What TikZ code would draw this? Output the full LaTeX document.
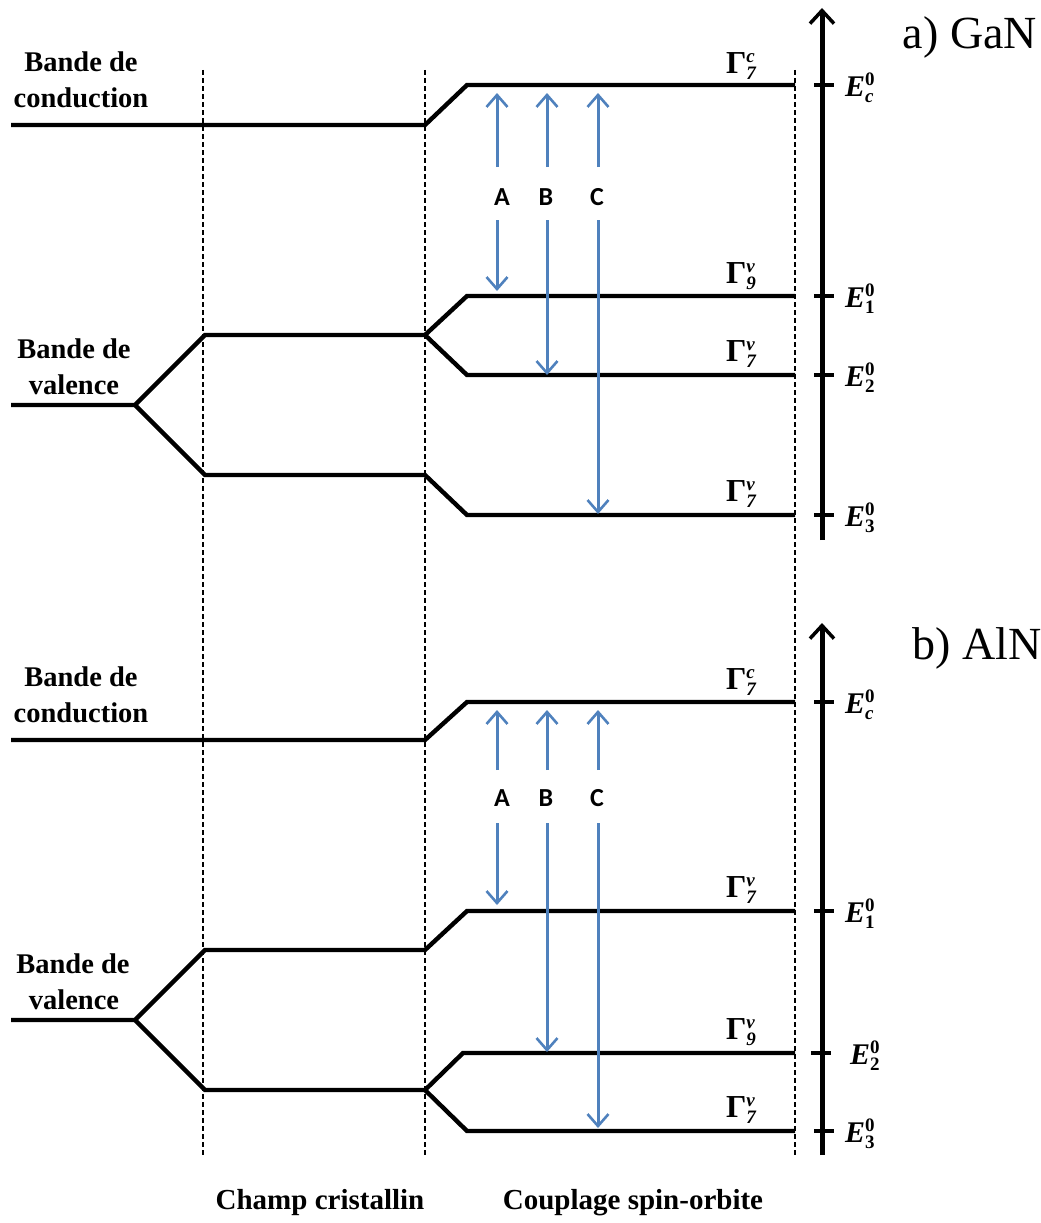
\documentclass[tikz,border=0pt]{standalone}
\usepackage{fontspec}
\setmainfont{Liberation Serif}
\newfontfamily\sansf{Carlito}
\usetikzlibrary{arrows.meta}
\definecolor{arrblue}{RGB}{79,129,189}
\newcommand\smallfs{\fontsize{19}{19}\selectfont}
\newcommand\glab[2]{{\fontsize{32}{34}\selectfont\bfseries Γ}\makebox[0pt][l]{\raisebox{11pt}{\smallfs\bfseries\itshape #2}}\raisebox{-6pt}{\smallfs\bfseries\itshape #1}}
\newcommand\elab[1]{{\fontsize{30}{32}\selectfont\bfseries\itshape E}\makebox[0pt][l]{\raisebox{11pt}{\smallfs\bfseries 0}}\raisebox{-6pt}{\smallfs\bfseries #1}}
\begin{document}
\begin{tikzpicture}[x=1pt,y=-1pt,
  lvl/.style={line width=4.4pt},
  axisline/.style={line width=5pt,-{Straight Barb[length=13pt,width=24pt,line width=3.5pt]}},
  tick/.style={line width=4.4pt},
  guide/.style={line width=1.3pt,dash pattern=on 5pt off 3pt},
  tr/.style={draw=arrblue,line width=3pt,-{Straight Barb[length=12pt,width=21pt,line width=2.6pt]}},
  abc/.style={font=\sansf\bfseries\fontsize{26}{28}\selectfont,inner sep=1pt},
  band/.style={font=\bfseries\fontsize{28.5}{34}\selectfont,align=center,inner sep=0pt},
  sect/.style={font=\bfseries\fontsize{29}{32}\selectfont,inner sep=0pt},
  title/.style={font=\fontsize{46}{50}\selectfont,inner sep=0pt},
  gl/.style={inner sep=0pt},
  el/.style={inner sep=0pt,anchor=west}]
\useasboundingbox (0,0) rectangle (1041,1223);

% dashed guides
\foreach \x/\n in {203/g1,425/g2,795/g3}{
  \coordinate (\n t) at (\x,70);
  \coordinate (\n b) at (\x,1155);
  \draw[guide] (\n t) -- (\n b);
}

% ===== a) GaN =====
\coordinate (ac0) at (11,125);
\coordinate (ac1) at (425,125);
\coordinate (ac2) at (467,85);
\coordinate (ac3) at (795,85);
\draw[lvl] (ac0) -- (ac1) -- (ac2) -- (ac3);

\coordinate (av0) at (11,405);
\coordinate (av1) at (135,405);
\coordinate (avu1) at (205,335);
\coordinate (avu2) at (425,335);
\coordinate (avuu) at (467,296);
\coordinate (avuue) at (795,296);
\coordinate (avud) at (467,375);
\coordinate (avude) at (795,375);
\coordinate (avd1) at (205,475);
\coordinate (avd2) at (425,475);
\coordinate (avd3) at (467,515);
\coordinate (avd4) at (795,515);
\draw[lvl] (av0) -- (av1) -- (avu1) -- (avu2) -- (avuu) -- (avuue);
\draw[lvl] (avu2) -- (avud) -- (avude);
\draw[lvl] (av1) -- (avd1) -- (avd2) -- (avd3) -- (avd4);

\coordinate (aax0) at (822,540);
\coordinate (aax1) at (822,8);
\draw[axisline] (aax0) -- (aax1);
\foreach \y/\n in {85/a1,296/a2,375/a3,515/a4}{
  \coordinate (\n l) at (814,\y);
  \coordinate (\n r) at (834,\y);
  \draw[tick] (\n l) -- (\n r);
}

\node[band] (abc1) at (81,62) {Bande de};
\node[band] (abc2) at (81,98) {conduction};
\node[band] (abv1) at (74,349) {Bande de};
\node[band] (abv2) at (74,385) {valence};
\node[title] (atitle) at (970,37) {a) GaN};

\node[gl] (ag1) at (741,66) {\glab{7}{c}};
\node[gl] (ag2) at (741,276) {\glab{9}{v}};
\node[gl] (ag3) at (741,354) {\glab{7}{v}};
\node[gl] (ag4) at (741,494) {\glab{7}{v}};

\node[el] (ae1) at (845,88) {\elab{\itshape c}};
\node[el] (ae2) at (845,299) {\elab{1}};
\node[el] (ae3) at (845,378) {\elab{2}};
\node[el] (ae4) at (845,518) {\elab{3}};

\foreach \n/\x/\lx/\yb in {A/497/502/291,B/547/546/375,C/598/597/514}{
  \node[abc] (a\n) at (\lx,197) {\n};
  \coordinate (a\n s1) at (\x,167);
  \coordinate (a\n e1) at (\x,93);
  \coordinate (a\n s2) at (\x,220);
  \coordinate (a\n e2) at (\x,\yb);
  \draw[tr] (a\n s1) -- (a\n e1);
  \draw[tr] (a\n s2) -- (a\n e2);
}

% ===== b) AlN =====
\coordinate (bc0) at (11,740);
\coordinate (bc1) at (425,740);
\coordinate (bc2) at (467,702);
\coordinate (bc3) at (795,702);
\draw[lvl] (bc0) -- (bc1) -- (bc2) -- (bc3);

\coordinate (bv0) at (11,1020);
\coordinate (bv1) at (135,1020);
\coordinate (bvu1) at (205,950);
\coordinate (bvu2) at (425,950);
\coordinate (bvu3) at (467,911);
\coordinate (bvu4) at (795,911);
\coordinate (bvd1) at (205,1090);
\coordinate (bvd2) at (425,1090);
\coordinate (bvdu) at (463,1053);
\coordinate (bvdue) at (795,1053);
\coordinate (bvdd) at (467,1131);
\coordinate (bvdde) at (795,1131);
\draw[lvl] (bv0) -- (bv1) -- (bvu1) -- (bvu2) -- (bvu3) -- (bvu4);
\draw[lvl] (bv1) -- (bvd1) -- (bvd2) -- (bvdu) -- (bvdue);
\draw[lvl] (bvd2) -- (bvdd) -- (bvdde);

\coordinate (bax0) at (822,1155);
\coordinate (bax1) at (822,623);
\draw[axisline] (bax0) -- (bax1);
\foreach \y/\n/\dx in {702/b1/0,911/b2/0,1053/b3/-3,1131/b4/0}{
  \coordinate (\n l) at ({814+\dx},\y);
  \coordinate (\n r) at ({834+\dx},\y);
  \draw[tick] (\n l) -- (\n r);
}

\node[band] (bbc1) at (81,677) {Bande de};
\node[band] (bbc2) at (81,713) {conduction};
\node[band] (bbv1) at (73,964) {Bande de};
\node[band] (bbv2) at (74,1000) {valence};
\node[title] (btitle) at (977,648) {b) AlN};

\node[gl] (bg1) at (741,682) {\glab{7}{c}};
\node[gl] (bg2) at (741,890) {\glab{7}{v}};
\node[gl] (bg3) at (741,1032) {\glab{9}{v}};
\node[gl] (bg4) at (741,1110) {\glab{7}{v}};

\node[el] (be1) at (845,705) {\elab{\itshape c}};
\node[el] (be2) at (845,914) {\elab{1}};
\node[el] (be3) at (850,1056) {\elab{2}};
\node[el] (be4) at (845,1134) {\elab{3}};

\foreach \n/\x/\lx/\yb in {A/497/502/905,B/547/546/1052,C/598/597/1128}{
  \node[abc] (b\n) at (\lx,798) {\n};
  \coordinate (b\n s1) at (\x,770);
  \coordinate (b\n e1) at (\x,710);
  \coordinate (b\n s2) at (\x,823);
  \coordinate (b\n e2) at (\x,\yb);
  \draw[tr] (b\n s1) -- (b\n e1);
  \draw[tr] (b\n s2) -- (b\n e2);
}

% bottom section labels
\node[sect] (champ) at (320,1203) {Champ cristallin};
\node[sect] (coupl) at (633,1203) {Couplage spin-orbite};
\end{tikzpicture}
\end{document}
